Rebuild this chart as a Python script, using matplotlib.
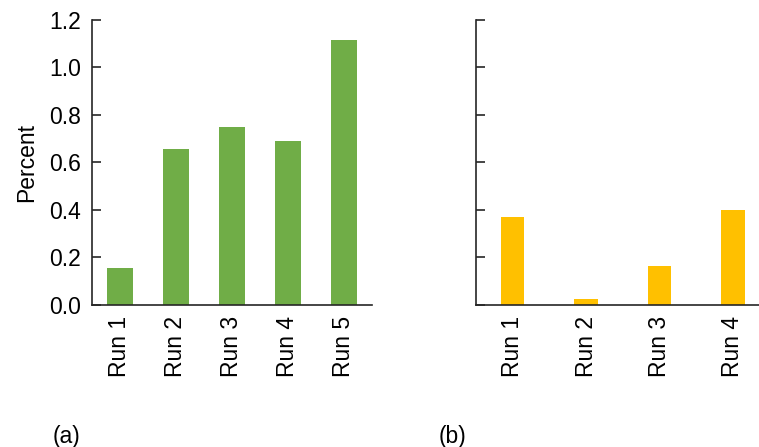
import numpy as np
import matplotlib.pyplot as plt

plt.rcParams['font.family'] = ['Liberation Sans', 'DejaVu Sans']

runs_a = ['Run 1', 'Run 2', 'Run 3', 'Run 4', 'Run 5']
pct_a = [0.156, 0.656, 0.749, 0.690, 1.116]

runs_b = ['Run 1', 'Run 2', 'Run 3', 'Run 4']
pct_b = [0.372, 0.025, 0.164, 0.400]

yticks = [0.0, 0.2, 0.4, 0.6, 0.8, 1.0, 1.2]

fs = 16.5
spine_col = '#262626'

fig = plt.figure(figsize=(7.59, 4.47), dpi=100)
ax1 = fig.add_axes([0.1212, 0.3177, 0.3689, 0.6376])
ax2 = fig.add_axes([0.6271, 0.3177, 0.3868, 0.6376])


def style(ax):
    for s in ['top', 'right']:
        ax.spines[s].set_visible(False)
    for s in ['left', 'bottom']:
        ax.spines[s].set_color(spine_col)
        ax.spines[s].set_linewidth(1.2)
    ax.set_ylim(0, 1.2)
    ax.set_yticks(yticks)
    ax.tick_params(axis='y', direction='in', length=6.5, width=1.2,
                   color=spine_col, labelsize=fs, pad=8)
    ax.tick_params(axis='x', length=0, labelsize=fs, pad=8)


# (a)
x = np.arange(len(runs_a))
ax1.bar(x, pct_a, width=0.45, color='#70AD47')
ax1.set_xlim(-0.5, len(runs_a) - 0.5)
style(ax1)
ax1.set_yticklabels(['%.1f' % v for v in yticks])
ax1.set_xticks(x)
ax1.set_xticklabels(runs_a, rotation=90)
ax1.set_ylabel('Percent', fontsize=fs, labelpad=8)

# (b)
x = np.arange(len(runs_b))
ax2.bar(x, pct_b, width=0.32, color='#FFC000')
ax2.set_xlim(-0.5, len(runs_b) - 0.5)
style(ax2)
ax2.set_yticklabels([])
ax2.set_xticks(x)
ax2.set_xticklabels(runs_b, rotation=90)

fig.text(66 / 759, 1 - 437 / 447, '(a)', fontsize=fs, ha='center', va='center')
fig.text(452 / 759, 1 - 437 / 447, '(b)', fontsize=fs, ha='center', va='center')

fig.savefig('out.png', dpi=100)
